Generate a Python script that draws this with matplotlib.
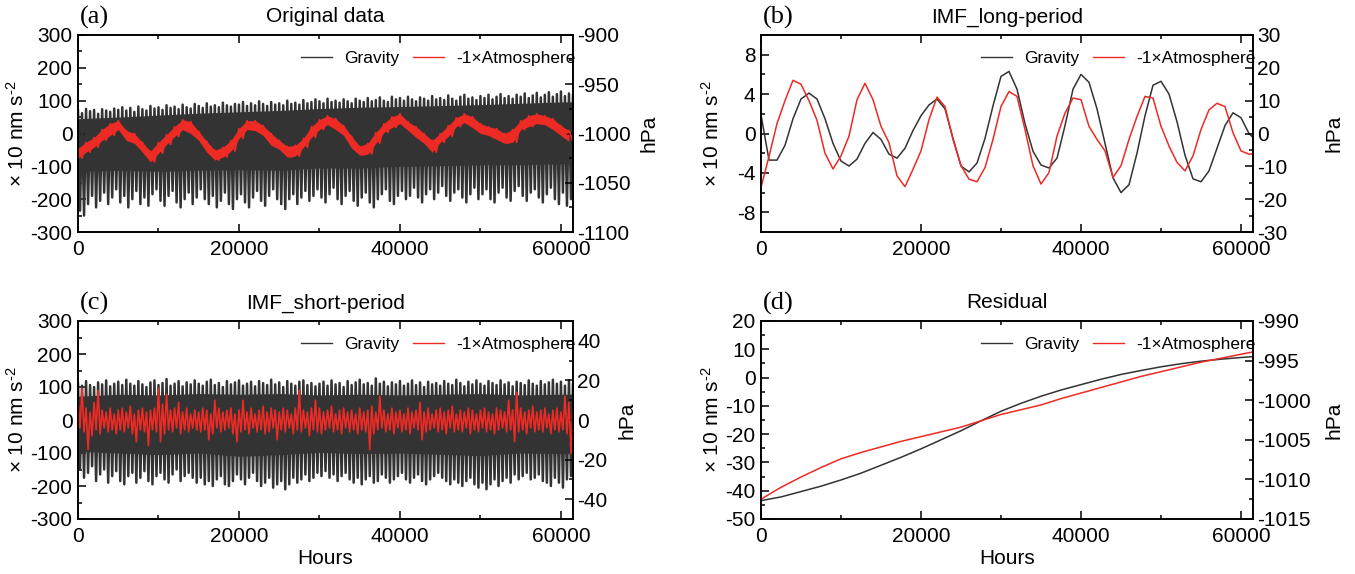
import numpy as np
import matplotlib
matplotlib.use("Agg")
import matplotlib.pyplot as plt
from matplotlib.ticker import MultipleLocator
from matplotlib.lines import Line2D

plt.rcParams['font.family'] = ['Liberation Sans', 'DejaVu Sans']
plt.rcParams['axes.unicode_minus'] = False
plt.rcParams['mathtext.fontset'] = 'custom'
plt.rcParams['mathtext.rm'] = 'Liberation Sans'
plt.rcParams['mathtext.it'] = 'Liberation Sans:italic'
plt.rcParams['mathtext.default'] = 'regular'
plt.rcParams['path.simplify'] = False

# ---------------- data ----------------
XMAX = 61500

# (a) original gravity: spike tips every 500 h (upper / lower), dense core every 5000 h
g_a_top = [70, 62, 75, 68, 72, 60, 74, 70, 66, 76,
           72, 80, 70, 78, 66, 82, 74, 70, 84, 76,
           80, 72, 86, 78, 82, 74, 88, 80, 76, 90,
           84, 78, 92, 82, 86, 80, 94, 86, 82, 90,
           88, 96, 84, 92, 86, 98, 90, 84, 96, 88,
           92, 86, 100, 90, 94, 88, 102, 92, 96, 104,
           98, 92, 106, 96, 100, 94, 104, 98, 92, 106,
           100, 96, 108, 98, 102, 110, 100, 96, 112, 104,
           108, 100, 112, 104, 98, 110, 106, 100, 114, 104,
           108, 102, 116, 106, 100, 112, 118, 106, 110, 102,
           114, 108, 118, 104, 112, 120, 108, 114, 106, 118,
           112, 122, 108, 116, 124, 110, 118, 126, 112, 120,
           128, 114, 122, 118]
g_a_bot = [-235, -250, -215, -190, -225, -205, -180, -215, -195, -170,
           -210, -190, -225, -200, -175, -215, -195, -220, -185, -170,
           -205, -220, -190, -175, -210, -225, -200, -180, -215, -195,
           -170, -200, -215, -190, -225, -205, -180, -215, -230, -200,
           -185, -210, -225, -195, -175, -205, -220, -190, -170, -200,
           -215, -230, -200, -185, -215, -195, -175, -205, -190, -170,
           -195, -210, -185, -165, -200, -215, -190, -175, -205, -220,
           -195, -180, -210, -225, -200, -185, -170, -205, -215, -190,
           -175, -200, -190, -165, -195, -210, -185, -170, -200, -180,
           -160, -190, -205, -180, -170, -195, -210, -185, -165, -200,
           -185, -170, -200, -210, -180, -165, -195, -205, -175, -160,
           -190, -205, -180, -170, -195, -210, -185, -165, -200, -215,
           -180, -220, -200, -175]
g_a_core_hi = [45, 50, 56, 62, 66, 70, 76, 80, 82, 85, 88, 92, 96, 98]
g_a_core_lo = [-115, -112, -115, -112, -110, -112, -105, -105, -100, -98, -95, -95, -92, -90]

# (a) -1 x atmosphere (hPa): local upper / lower extent every 1000 h
atm_a_hi = [-1015, -1009, -1004, -996, -990, -987, -997, -1000, -1009, -1018,
            -1009, -1001, -993, -986, -988, -998, -1008, -1017, -1014, -1007,
            -995, -987, -987, -992, -1000, -1007, -1013, -1012, -1005, -993,
            -986, -982, -985, -992, -1003, -1013, -1010, -999, -990, -983,
            -980, -988, -993, -1000, -1007, -1000, -992, -984, -980, -983,
            -990, -993, -995, -1000, -996, -987, -982, -980, -982, -985,
            -992, -997]
atm_a_lo = [-1025, -1019, -1014, -1007, -1002, -996, -1007, -1010, -1019, -1029,
            -1020, -1011, -1003, -996, -1000, -1007, -1019, -1027, -1024, -1018,
            -1005, -996, -997, -1002, -1012, -1016, -1024, -1023, -1014, -1004,
            -996, -991, -996, -1002, -1015, -1022, -1021, -1010, -999, -994,
            -990, -997, -1004, -1010, -1019, -1009, -1003, -993, -989, -994,
            -1000, -1002, -1006, -1010, -1009, -996, -993, -990, -991, -996,
            -1002, -1008]

# (b) long-period IMF, every 1000 h
g_b = [1.9, -2.7, -2.7, -1.2, 1.5, 3.5, 4.1, 3.5, 1.5, -1.0,
       -2.8, -3.3, -2.6, -1.0, 0.1, -0.6, -2.1, -2.5, -1.5, 0.3,
       1.8, 2.9, 3.5, 2.5, -0.5, -3.3, -3.9, -3.0, -0.5, 2.8,
       5.8, 6.3, 4.5, 1.0, -1.8, -3.2, -3.5, -2.5, 0.8, 4.5,
       6.0, 5.2, 2.5, -1.0, -4.5, -6.0, -5.2, -2.0, 1.8, 4.9,
       5.3, 4.0, 1.2, -2.2, -4.6, -4.9, -3.8, -1.5, 0.8, 2.1,
       1.6, 0.0, -0.8]
atm_b = [-16.4, -7.0, 3.0, 10.0, 16.2, 15.0, 10.0, 4.0, -6.0, -10.8,
         -6.8, -0.8, 10.3, 15.3, 10.3, 2.2, -2.8, -12.9, -16.2, -10.9,
         -5.3, 4.2, 11.1, 8.2, -1.8, -9.8, -13.9, -14.7, -10.4, -1.8,
         8.2, 12.8, 11.3, 1.2, -9.8, -15.4, -11.9, -0.8, 6.2, 10.8,
         10.3, 2.2, -1.8, -5.3, -13.4, -9.8, -1.8, 5.2, 11.3, 10.8,
         2.2, -3.8, -8.8, -11.4, -6.8, 1.2, 7.2, 9.2, 8.2, 0.2,
         -5.3, -6.3, -6.0]

# (c) short-period IMF gravity: spike tips every 500 h, core every 5000 h
g_c_top = [112, 104, 118, 106, 100, 114, 108, 120, 102, 110,
           116, 106, 122, 110, 104, 118, 108, 100, 114, 120,
           106, 112, 124, 104, 110, 118, 102, 114, 108, 120,
           110, 104, 116, 122, 106, 112, 100, 118, 108, 114,
           120, 104, 110, 116, 102, 118, 112, 106, 122, 108,
           114, 100, 118, 110, 104, 116, 120, 106, 112, 102,
           110, 116, 104, 120, 108, 112, 100, 118, 106, 114,
           122, 108, 112, 104, 126, 110, 116, 102, 114, 108,
           118, 104, 110, 120, 106, 114, 100, 116, 108, 112,
           104, 118, 110, 106, 122, 112, 102, 116, 108, 120,
           110, 104, 118, 112, 106, 120, 108, 114, 102, 116,
           112, 106, 120, 110, 104, 118, 108, 114, 122, 110,
           116, 104, 120, 112]
g_c_bot = [-150, -175, -160, -140, -185, -165, -150, -190, -170, -155,
           -185, -195, -170, -160, -190, -175, -155, -185, -195, -170,
           -160, -180, -190, -165, -150, -185, -170, -160, -175, -190,
           -175, -195, -185, -200, -180, -170, -195, -200, -185, -165,
           -180, -195, -175, -160, -185, -200, -190, -175, -205, -195,
           -185, -210, -195, -175, -190, -180, -165, -185, -175, -160,
           -170, -155, -175, -165, -185, -170, -160, -180, -190, -175,
           -195, -180, -170, -190, -185, -165, -175, -190, -180, -170,
           -160, -180, -190, -175, -165, -185, -195, -180, -170, -160,
           -175, -185, -195, -180, -190, -200, -185, -175, -195, -205,
           -190, -210, -195, -180, -200, -185, -175, -190, -165, -180,
           -170, -160, -180, -175, -165, -185, -190, -200, -175, -190,
           -205, -180, -170, -185]
g_c_core_hi = [72, 78, 76, 80, 78, 80, 76, 78, 76, 78, 80, 76, 78, 78]
g_c_core_lo = [-95, -100, -105, -100, -110, -105, -98, -102, -100, -104, -108, -100, -102, -100]

# (c) atmosphere short period (hPa), upper / lower extent every 500 h
atm_c_hi = [10, 16, 6, 4, 9, 15, 5, 4, 6, 3,
            5, 6, 4, 7, 3, 5, 6, 4, 5, 6,
            16, 8, 13, 5, 6, 9, 4, 6, 3, 5,
            4, 6, 5, 3, 10, 6, 4, 5, 6, 3,
            5, 10, 4, 6, 3, 5, 7, 4, 6, 5,
            4, 6, 5, 3, 6, 15, 5, 4, 6, 10,
            6, 4, 5, 7, 3, 5, 6, 4, 5, 3,
            6, 4, 5, 7, 4, 12, 5, 3, 6, 4,
            5, 3, 6, 4, 5, 9, 4, 6, 3, 5,
            6, 4, 5, 7, 3, 5, 4, 6, 5, 3,
            5, 6, 4, 3, 6, 5, 4, 10, 5, 14,
            6, 4, 5, 7, 4, 5, 6, 3, 5, 6,
            4, 12, 9, 6]
atm_c_lo = [-4, -6, -15, -8, -5, -7, -4, -6, -5, -7,
            -5, -6, -4, -7, -11, -5, -6, -13, -5, -6,
            -11, -7, -5, -6, -4, -7, -5, -6, -4, -5,
            -6, -5, -10, -7, -4, -6, -5, -4, -7, -11,
            -6, -5, -7, -4, -6, -5, -7, -6, -4, -10,
            -5, -6, -4, -7, -5, -6, -4, -8, -5, -6,
            -7, -5, -4, -6, -5, -7, -4, -6, -5, -7,
            -5, -6, -15, -7, -5, -4, -6, -5, -7, -4,
            -6, -5, -7, -4, -5, -10, -6, -5, -4, -6,
            -5, -7, -4, -6, -5, -6, -4, -7, -5, -6,
            -4, -6, -5, -7, -5, -4, -6, -5, -11, -6,
            -5, -7, -4, -6, -5, -6, -4, -7, -5, -6,
            -5, -7, -17, -12]

# (d) residual, every 2500 h
g_d = [-43.5, -42.2, -40.3, -38.4, -36.2, -33.8, -31.0, -28.2, -25.2, -22.0,
       -18.8, -15.3, -11.9, -9.1, -6.6, -4.4, -2.5, -0.6, 1.1, 2.5,
       3.8, 4.9, 5.8, 6.5, 7.1, 7.6]
atm_d = [-1012.5, -1011.0, -1009.7, -1008.5, -1007.4, -1006.6, -1005.9, -1005.2, -1004.6, -1004.0,
         -1003.4, -1002.6, -1001.8, -1001.2, -1000.6, -999.8, -999.1, -998.4, -997.7, -997.0,
         -996.4, -995.8, -995.2, -994.7, -994.2, -993.7]

GRAV = '#333333'
RED = '#ee2a24'


def zigzag(hi, lo, step):
    # alternate between upper and lower extent to draw a dense oscillating record
    t = np.arange(len(hi)) * step
    x = np.column_stack([t, t + step / 2]).ravel()
    y = np.column_stack([hi, lo]).ravel()
    return x, y


def noisy(ax, hi, lo, step, color, lw, fill=True):
    if fill:
        t = np.arange(len(hi)) * step
        ax.fill_between(t, lo, hi, color=color, lw=0)
    x, y = zigzag(hi, lo, step)
    ax.plot(x, y, color=color, lw=lw)


def style(ax, ax2, ylim, ymaj, ymin, y2lim, y2maj, y2min):
    ax.set_xlim(0, XMAX)
    ax.set_ylim(*ylim)
    ax2.set_ylim(*y2lim)
    ax.xaxis.set_major_locator(MultipleLocator(20000))
    ax.xaxis.set_minor_locator(MultipleLocator(10000))
    ax.yaxis.set_major_locator(MultipleLocator(ymaj))
    ax.yaxis.set_minor_locator(MultipleLocator(ymin))
    ax2.yaxis.set_major_locator(MultipleLocator(y2maj))
    ax2.yaxis.set_minor_locator(MultipleLocator(y2min))
    ax.tick_params(which='both', direction='in', top=True, right=False, labelsize=15, width=1.1)
    ax.tick_params(axis='x', pad=6)
    ax.tick_params(axis='y', pad=4)
    ax2.tick_params(which='both', direction='in', labelsize=15, width=1.1, pad=3)
    for a in (ax, ax2):
        a.tick_params(which='major', length=6)
        a.tick_params(which='minor', length=3)
        for sp in a.spines.values():
            sp.set_linewidth(1.2)


def decorate(ax, ax2, letter, title, lab_x, hpa_x):
    ax.set_title(title, fontsize=15, pad=9)
    ax.text(0.004, 1.03, letter, transform=ax.transAxes, ha='left', va='bottom',
            fontsize=19, family=['Liberation Serif', 'DejaVu Serif'])
    ax.set_ylabel('× 10 nm s$^{\u2010 2}$', fontsize=15)
    ax.yaxis.set_label_coords(lab_x, 0.5)
    ax2.set_ylabel('hPa', fontsize=15)
    ax2.yaxis.set_label_coords(hpa_x, 0.5)
    handles = [Line2D([], [], color=GRAV, lw=1.0), Line2D([], [], color=RED, lw=1.0)]
    ax2.legend(handles, ['Gravity', '-1×Atmosphere'], loc='upper right',
               bbox_to_anchor=(1.006, 0.92), frameon=False, ncol=2, fontsize=12.5,
               handlelength=1.8, handletextpad=0.7, columnspacing=0.8,
               borderaxespad=0, borderpad=0)


fig = plt.figure(figsize=(13.55, 5.74), dpi=100)
W, H = 1355, 574


def rect(x0, y0, x1, y1):
    return [x0 / W, 1 - y1 / H, (x1 - x0) / W, (y1 - y0) / H]


ax_a = fig.add_axes(rect(78, 35, 573, 232))
ax_b = fig.add_axes(rect(761, 35, 1253, 232))
ax_c = fig.add_axes(rect(78, 321, 573, 519))
ax_d = fig.add_axes(rect(761, 321, 1253, 519))
tw_a, tw_b, tw_c, tw_d = ax_a.twinx(), ax_b.twinx(), ax_c.twinx(), ax_d.twinx()

# (a)
ax_a.fill_between(np.arange(len(g_a_core_hi)) * 5000, g_a_core_lo, g_a_core_hi, color=GRAV, lw=0)
noisy(ax_a, g_a_top, g_a_bot, 500, GRAV, 1.8, fill=False)
noisy(tw_a, atm_a_hi, atm_a_lo, 1000, RED, 1.2)
style(ax_a, tw_a, (-300, 300), 100, 50, (-1100, -900), 50, 25)
decorate(ax_a, tw_a, '(a)', 'Original data', -0.101, 1.135)

# (b)
t_b = np.arange(len(g_b)) * 1000
ax_b.plot(t_b, g_b, color=GRAV, lw=1.1)
tw_b.plot(t_b, atm_b, color=RED, lw=1.1)
style(ax_b, tw_b, (-10, 10), 4, 2, (-30, 30), 10, 5)
decorate(ax_b, tw_b, '(b)', 'IMF_long-period', -0.077, 1.146)

# (c)
ax_c.fill_between(np.arange(len(g_c_core_hi)) * 5000, g_c_core_lo, g_c_core_hi, color=GRAV, lw=0)
noisy(ax_c, g_c_top, g_c_bot, 500, GRAV, 1.8, fill=False)
noisy(tw_c, atm_c_hi, atm_c_lo, 500, RED, 1.2, fill=False)
style(ax_c, tw_c, (-300, 300), 100, 50, (-50, 50), 20, 10)
decorate(ax_c, tw_c, '(c)', 'IMF_short-period', -0.101, 1.09)
ax_c.set_xlabel('Hours', fontsize=15, labelpad=2)

# (d)
t_d = np.arange(len(g_d)) * 2500
ax_d.plot(t_d, g_d, color=GRAV, lw=1.1)
tw_d.plot(t_d, atm_d, color=RED, lw=1.1)
style(ax_d, tw_d, (-50, 20), 10, 5, (-1015, -990), 5, 2.5)
decorate(ax_d, tw_d, '(d)', 'Residual', -0.077, 1.146)
ax_d.set_xlabel('Hours', fontsize=15, labelpad=2)

fig.savefig('out.png', dpi=100)
